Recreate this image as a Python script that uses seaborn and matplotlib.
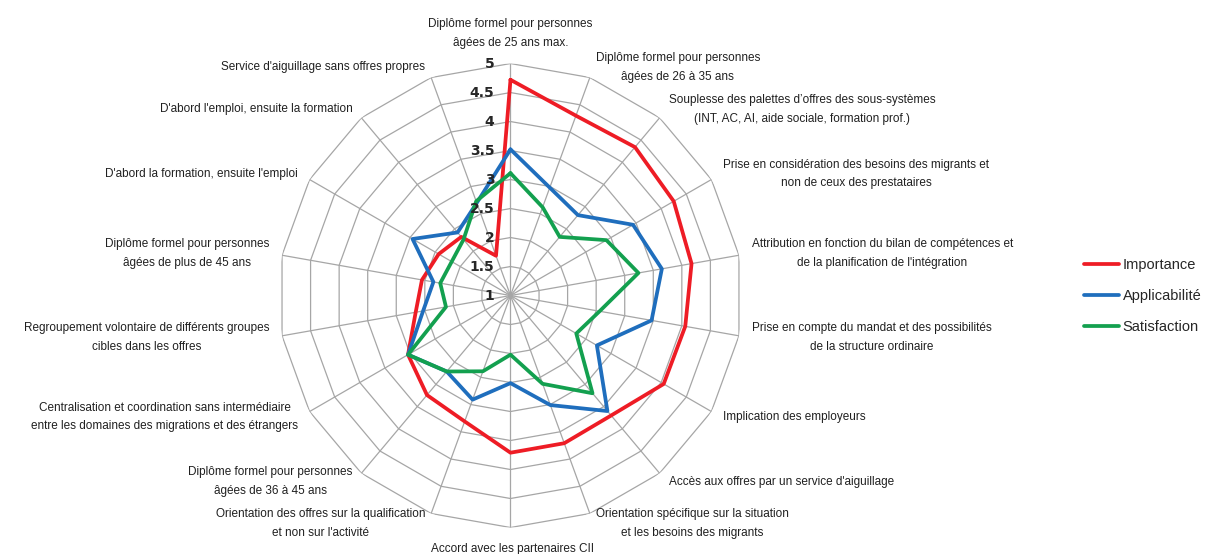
import numpy as np
import pandas as pd
import matplotlib
matplotlib.use("Agg")
import matplotlib.pyplot as plt
import seaborn as sns

# Categories (clockwise from top)
categories = [
    "Diplôme formel pour personnes\nâgées de 25 ans max.",
    "Diplôme formel pour personnes\nâgées de 26 à 35 ans",
    "Souplesse des palettes d’offres des sous-systèmes\n(INT, AC, AI, aide sociale, formation prof.)",
    "Prise en considération des besoins des migrants et\nnon de ceux des prestataires",
    "Attribution en fonction du bilan de compétences et\nde la planification de l'intégration",
    "Prise en compte du mandat et des possibilités\nde la structure ordinaire",
    "Implication des employeurs",
    "Accès aux offres par un service d'aiguillage",
    "Orientation spécifique sur la situation\net les besoins des migrants",
    "Accord avec les partenaires CII",
    "Orientation des offres sur la qualification\net non sur l'activité",
    "Diplôme formel pour personnes\nâgées de 36 à 45 ans",
    "Centralisation et coordination sans intermédiaire\nentre les domaines des migrations et des étrangers",
    "Regroupement volontaire de différents groupes\ncibles dans les offres",
    "Diplôme formel pour personnes\nâgées de plus de 45 ans",
    "D'abord la formation, ensuite l'emploi",
    "D'abord l'emploi, ensuite la formation",
    "Service d'aiguillage sans offres propres",
]

importance = [4.72, 4.30, 4.34, 4.25, 4.17, 4.06, 4.05, 3.70, 3.71, 3.71,
              3.31, 3.24, 3.04, 2.66, 2.55, 2.43, 2.32, 1.73]
applicabilite = [3.52, 2.98, 2.81, 3.44, 3.65, 3.47, 2.72, 3.60, 3.01, 2.51,
                 2.91, 2.71, 3.04, 2.53, 2.35, 2.95, 2.42, 2.70]
satisfaction = [3.11, 2.62, 2.32, 2.91, 3.24, 2.56, 2.31, 3.20, 2.62, 2.02,
                2.39, 2.71, 3.04, 2.13, 2.23, 2.17, 2.26, 2.73]

series_names = ["Importance", "Applicabilité", "Satisfaction"]
series_colors = ["#ee1c25", "#1f6ebd", "#13a04f"]
r_ticks = [1, 1.5, 2, 2.5, 3, 3.5, 4, 4.5, 5]

sns.set_style("white")
plt.rcParams["font.family"] = ["Liberation Sans", "DejaVu Sans"]

n = len(categories)
angles = np.linspace(0, 2 * np.pi, n, endpoint=False)

# long-form table, each series closed on its first point
frames = []
for name, vals in zip(series_names, [importance, applicabilite, satisfaction]):
    frames.append(pd.DataFrame({
        "theta": np.append(angles, 2 * np.pi),
        "value": list(vals) + [vals[0]],
        "series": name,
    }))
df = pd.concat(frames, ignore_index=True)

fig = plt.figure(figsize=(12.13, 5.54), dpi=100)
ax = fig.add_axes([0.2296, 0.0478, 0.3825, 0.8375], projection="polar")
ax.set_theta_offset(np.pi / 2)
ax.set_theta_direction(-1)
ax.grid(False)
ax.spines["polar"].set_visible(False)

# polygon grid
closed = np.append(angles, angles[0])
for lvl in r_ticks[1:]:
    ax.plot(closed, [lvl] * len(closed), color="#a6a6a6", lw=0.9, zorder=1)
for a in angles:
    ax.plot([a, a], [1, 5], color="#a6a6a6", lw=0.9, zorder=1)

sns.lineplot(data=df, x="theta", y="value", hue="series", hue_order=series_names,
             palette=dict(zip(series_names, series_colors)), sort=False,
             estimator=None, lw=2.7, ax=ax, zorder=3)

ax.set_ylim(1, 5)
ax.set_xticks([])
ax.set_yticks([])
ax.set_xlabel("")
ax.set_ylabel("")

# radial tick labels along the top spoke
for t in r_ticks:
    ax.annotate(f"{t:g}", xy=(0, t), xytext=(-16, 0), textcoords="offset pixels",
                ha="right", va="center", fontsize=10, fontweight="bold",
                family=["DejaVu Sans"])

# category labels
for a, lab in zip(angles, categories):
    s, c = np.sin(a), np.cos(a)
    ha = "left" if s > 0.1 else ("right" if s < -0.1 else "center")
    if c > 0.99:
        va, off = "bottom", 15
    elif c < -0.99:
        va, off = "top", 15
    else:
        va, off = "center", 11
    ax.annotate(lab, xy=(a, 5), xytext=(off * s + 2 * np.sign(s), off * c),
                textcoords="offset pixels", ha=ha, va=va, fontsize=8.5,
                linespacing=1.75, multialignment="center", color="#202020",
                annotation_clip=False)

handles, labels = ax.get_legend_handles_labels()
ax.legend(handles, labels, loc="center left", bbox_to_anchor=(0.8827, 0.466),
          bbox_transform=fig.transFigure, frameon=False, fontsize=10.5,
          handlelength=2.4, handletextpad=0.25, labelspacing=1.15)

fig.savefig("out.png", dpi=100)
